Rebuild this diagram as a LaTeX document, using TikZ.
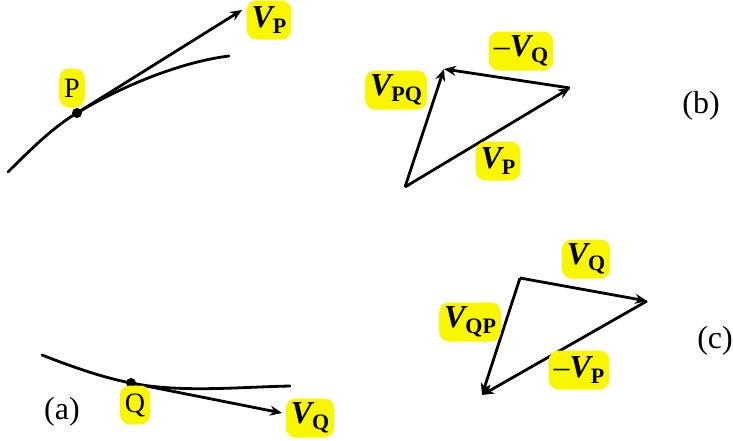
\documentclass[tikz,border=0pt]{standalone}
\usepackage{fontspec}
\setmainfont{Liberation Serif}
\usetikzlibrary{arrows.meta}
\definecolor{hlfill}{RGB}{250,246,0}
\tikzset{
  hl/.style={rectangle, rounded corners=5pt, fill=hlfill, inner xsep=2.5pt, inner ysep=0pt,
             minimum height=19.5pt, font=\fontsize{14}{14}\selectfont},
  tag/.style={inner sep=0pt, font=\fontsize{16}{16}\selectfont},
  path/.style={line width=1.4pt, line cap=round},
  arr/.style={-{Stealth[length=6pt, width=5pt, inset=2pt]}, line width=1.4pt},
  dot/.style={circle, fill=black, inner sep=0pt, minimum size=5pt}
}
\newcommand{\vlab}[1]{{\fontsize{16}{16}\selectfont\bfseries\itshape V}\raisebox{-0.2em}{\fontsize{11}{11}\selectfont\bfseries #1}}
\newcommand{\mvlab}[1]{{\fontsize{16}{16}\selectfont\textendash}\vlab{#1}}

\begin{document}
\begin{tikzpicture}[x=0.5pt, y=-0.5pt]
\useasboundingbox (0,0) rectangle (733,440);
% (a) paths of P and Q
\coordinate (s1) at (8,172); \coordinate (e1) at (229,56);
\node[dot] (P) at (77,113) {};
\coordinate (vp) at (242,10);
\draw[path] (s1) .. controls (35,145) and (55,126) .. (P.center) .. controls (120,87) and (180,62) .. (e1);
\draw[arr] (P.center) -- (vp);
\node[hl] (lP) at (72,88) {P};
\node[hl] (lVP) at (269,20) {\vlab{P}};
\coordinate (s2) at (42,355); \coordinate (e2) at (290,386);
\node[dot] (Q) at (131,383) {};
\coordinate (vq) at (282,413);
\draw[path] (s2) .. controls (75,368) and (105,378) .. (Q.center) .. controls (180,393) and (240,387) .. (e2);
\draw[arr] (Q.center) -- (vq);
\node[hl] (lQ) at (135,405) {Q};
\node[hl] (lVQ) at (310,418) {\vlab{Q}};
\node[tag] (ta) at (62,412) {(a)};
% (b) velocity of P relative to Q
\coordinate (b1) at (405,187); \coordinate (b2) at (570,88); \coordinate (b3) at (444,69);
\draw[arr] (b1) -- (b2); \draw[arr] (b2) -- (b3); \draw[arr] (b1) -- (b3);
\node[hl] (bVQ) at (521,51) {\mvlab{Q}};
\node[hl] (bVPQ) at (396,90) {\vlab{PQ}};
\node[hl] (bVP) at (498,161) {\vlab{P}};
\node[tag] (tb) at (701,106) {(b)};
% (c) velocity of Q relative to P
\coordinate (c1) at (520,278); \coordinate (c2) at (647,301); \coordinate (c3) at (482,395);
\draw[arr] (c1) -- (c2); \draw[arr] (c2) -- (c3); \draw[arr] (c1) -- (c3);
\node[hl] (cVQ) at (586,259) {\vlab{Q}};
\node[hl] (cVQP) at (470,322) {\vlab{QP}};
\node[hl] (cVP) at (579,370) {\mvlab{P}};
\node[tag] (tc) at (715,341) {(c)};
\end{tikzpicture}
\end{document}
